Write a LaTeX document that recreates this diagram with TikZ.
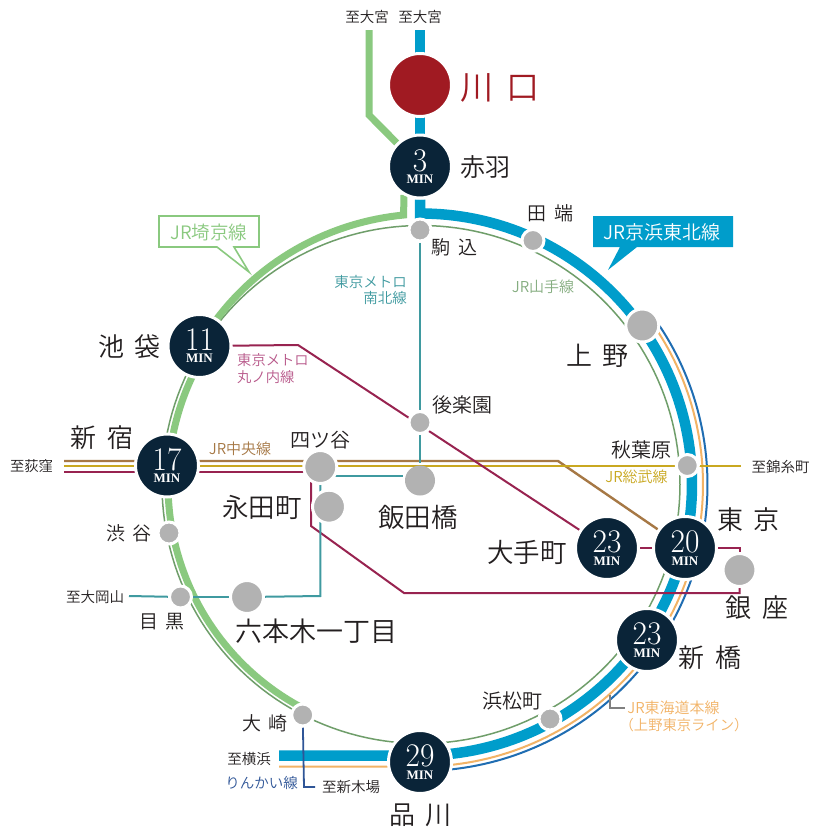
\documentclass[tikz,border=0pt]{standalone}
\usepackage{fontspec}
\usetikzlibrary{backgrounds}
\newfontfamily\cjk[UprightFont={* DemiLight},WordSpace=1.8]{Noto Sans CJK JP}
\newfontfamily\minf{Liberation Serif}
\newcommand{\jpf}[1]{\cjk\fontsize{#1}{#1}\selectfont}
\definecolor{navy}{HTML}{0A2438}
\definecolor{krimson}{HTML}{A01A22}
\definecolor{stgrey}{HTML}{B2B2B2}
\definecolor{keihin}{HTML}{009DCB}
\definecolor{saikyo}{HTML}{8AC97F}
\definecolor{yamanote}{HTML}{6F9E6A}
\definecolor{tokaido}{HTML}{F2B366}
\definecolor{uenotok}{HTML}{1F6DB2}
\definecolor{namboku}{HTML}{3F9AA0}
\definecolor{maruno}{HTML}{982350}
\definecolor{marutxt}{HTML}{B8588A}
\definecolor{chuo}{HTML}{A67845}
\definecolor{sobu}{HTML}{C9A820}
\definecolor{rinkai}{HTML}{2F5597}
\definecolor{inkc}{HTML}{231F20}
\newcommand{\minlabel}[1]{\vbox{\offinterlineskip
  \hbox to 50pt{\hss\scalebox{.95}[1]{\rmfamily\fontsize{33}{33}\selectfont #1}\hss}\kern3.5pt
  \hbox to 50pt{\hss\minf\bfseries\fontsize{13}{13}\selectfont MIN\hss}}}
\tikzset{
  x=1pt,y=-1pt,
  bigst/.style={circle,fill=navy,draw=white,line width=3pt,minimum size=63pt,inner sep=0pt,text=white},
  grL/.style={circle,fill=stgrey,draw=white,line width=3pt,minimum size=33pt,inner sep=0pt},
  grS/.style={circle,fill=stgrey,draw=white,line width=3pt,minimum size=22pt,inner sep=0pt},
  grN/.style={circle,fill=stgrey,minimum size=30pt,inner sep=0pt,outer sep=3pt},
  lab/.style={inner sep=0pt,text=inkc,font=\jpf{#1}},
  lnK/.style={keihin,line width=10.5pt,miter limit=10},
  lnS/.style={saikyo,line width=7pt,miter limit=10},
  lnY/.style={yamanote,line width=1.5pt},
  lnT/.style={tokaido,line width=2pt},
  lnU/.style={uenotok,line width=2pt},
  lnN/.style={namboku,line width=2pt},
  lnM/.style={maruno,line width=2pt},
  lnC/.style={chuo,line width=2.4pt},
  lnB/.style={sobu,line width=2.2pt},
  lnR/.style={rinkai,line width=1.8pt},
}
\begin{document}
\begin{tikzpicture}
\useasboundingbox (0,0) rectangle (820,836);
% stations
\node[circle,fill=krimson,draw=white,line width=3pt,minimum size=63pt,inner sep=0pt] (kawaguchi) at (420,85) {};
\node[bigst] (akabane) at (420,166.5) {\minlabel{3}};
\node[bigst] (ikebukuro) at (199.5,346) {\minlabel{11}};
\node[bigst] (shinjuku) at (167,465.5) {\minlabel{17}};
\node[bigst] (otemachi) at (607,548) {\minlabel{23}};
\node[bigst] (tokyo) at (685,548) {\minlabel{20}};
\node[bigst] (shinbashi) at (647,640) {\minlabel{23}};
\node[bigst] (shinagawa) at (420,762) {\minlabel{29}};
\node[grS] (komagome) at (420,230) {};
\node[grS] (tabata) at (533,240.5) {};
\node[grL] (ueno) at (642.3,325.5) {};
\node[grS] (korakuen) at (420,422.5) {};
\node[grS] (akihabara) at (687.3,465.5) {};
\node[grL] (yotsuya) at (320.3,467) {};
\node[grN] (iidabashi) at (420,480.5) {};
\node[grL] (nagatacho) at (329,506.7) {};
\node[grL] (ginza) at (739.5,570) {};
\node[grS] (shibuya) at (169,533) {};
\node[grS] (meguro) at (180.5,597) {};
\node[grL] (roppongi) at (247,597) {};
\node[grS] (osaki) at (302.7,715) {};
\node[grS] (hamamatsucho) at (550,719) {};
% free ends and bends
\coordinate (kTop) at (420,30);
\coordinate (kBend) at (420,213.5);
\coordinate (kEnd) at (279,755.5);
\coordinate (tEnd) at (279,766.5);
\coordinate (sTop) at (369,30);
\coordinate (sBend) at (369,115);
\coordinate (sFoot) at (404,195);
\coordinate (cW) at (64,461);
\coordinate (cBend) at (558,461);
\coordinate (bW) at (64,466);
\coordinate (bE) at (741,466);
\coordinate (mW) at (64,472);
\coordinate (mYot) at (320,472);
\coordinate (mA) at (298,345);
\coordinate (mGinzaT) at (739.5,548);
\coordinate (mGinzaB) at (739.5,593);
\coordinate (mB) at (404,593);
\coordinate (mC) at (311,526);
\coordinate (mD) at (311,467);
\coordinate (nW) at (129,596);
\coordinate (nC) at (320.3,596);
\coordinate (nY) at (320.3,476);
\coordinate (rC) at (304,787);
\coordinate (rE) at (315,787);
\coordinate (leadA) at (610,695);
\coordinate (leadB) at (610,708);
\coordinate (leadC) at (625,708);
% connectors
\begin{scope}[on background layer]
\fill[white] (0,0) rectangle (820,836);
\draw[lnY] plot[domain=0:360,samples=181] ({421+259*cos(\x)},{484.5-259*sin(\x)}) -- cycle;
\draw[lnS] (sFoot) -- plot[domain=93.7:150,samples=40] ({421+(270-0.15*(\x-94))*cos(\x)},{484.5-(270-0.15*(\x-94))*sin(\x)});
\draw[lnS] plot[domain=150:243,samples=60] ({421+253*cos(\x)},{484.5-253*sin(\x)});
\draw[lnS,line join=miter] (sTop) -- (sBend) -- (akabane);
\draw[lnK,line width=9.5pt] (kTop) -- (akabane);
\draw[lnT] plot[domain=33:-90,samples=90] ({421+282*cos(\x)},{484.5-282*sin(\x)}) -- (tEnd);
\draw[lnU] plot[domain=33.6:-84,samples=90] ({421+286.5*cos(\x)},{484.5-286.5*sin(\x)});
\draw[lnK] (akabane) -- (kBend) -- plot[domain=90:-90,samples=130] ({421+271*cos(\x)},{484.5-271*sin(\x)}) -- (kEnd);
\draw[lnC] (cW) -- (cBend) -- (tokyo);
\draw[lnB] (bW) -- (bE);
\draw[lnM] (mW) -- (mYot);
\draw[lnM] (ikebukuro) -- (mA) -- (otemachi);
\draw[lnM] (otemachi) -- (tokyo);
\draw[lnM] (tokyo) -- (mGinzaT) -- (ginza);
\draw[lnM] (ginza) -- (mGinzaB) -- (mB) -- (mC) -- (mD);
\draw[lnN] (komagome) -- (korakuen);
\draw[lnN] (korakuen) -- (iidabashi);
\draw[lnN,shorten >=17pt] (nY) -- (iidabashi |- nY);
\draw[lnN] (nW) -- (meguro);
\draw[lnN] (meguro) -- (roppongi);
\draw[lnN] (roppongi) -- (nC) -- (yotsuya);
\draw[lnR] (osaki) -- (rC) -- (rE);
\draw[color=gray,line width=1.4pt] (leadA) -- (leadB) -- (leadC);
\end{scope}
% callouts
\fill[keihin] (593,216) -- (733,216) -- (733,247) -- (637,247) -- (608,270) -- (620,247) -- (593,247) -- cycle;
\node[lab=19,text=white] (keihinT) at (662,232) {JR京浜東北線};
\draw[saikyo,line width=1.6pt,fill=white] (159,216) -- (259,216) -- (259,247) -- (234,247) -- (249,272) -- (217,247) -- (159,247) -- cycle;
\node[lab=18.5,text=saikyo] (saikyoT) at (209,232) {JR埼京線};
% labels
\node[lab=14.5] (toA) at (367,17) {至大宮};
\node[lab=14.5] (toB) at (420,17) {至大宮};
\node[lab=33,text=krimson,anchor=west] (lKawaguchi) at (460,88) {川 口};
\node[lab=25] (lAkabane) at (485,167) {赤羽};
\node[lab=19] (lKomagome) at (454.5,247) {駒 込};
\node[lab=19] (lTabata) at (550.5,213) {田 端};
\node[lab=14.5,text=namboku,align=right,anchor=east] (lNamboku) at (407,290) {東京メトロ\\[2pt]南北線};
\node[lab=15,text=yamanote!85!white] (lYamanote) at (543,287) {JR山手線};
\node[lab=26] (lUeno) at (597.5,356) {上 野};
\node[lab=20] (lKorakuen) at (462.5,405) {後楽園};
\node[lab=20] (lAkihabara) at (641,450) {秋葉原};
\node[lab=15,text=sobu] (lSobu) at (636.5,477) {JR総武線};
\node[lab=14.5] (lKinshi) at (780.5,467) {至錦糸町};
\node[lab=26] (lTokyo) at (748.5,520) {東 京};
\node[lab=26] (lGinza) at (757,608) {銀 座};
\node[lab=26] (lShinbashi) at (710,658) {新 橋};
\node[lab=26.5] (lOtemachi) at (527,552) {大手町};
\node[lab=15,text=tokaido] (lTokaido) at (673.5,708) {JR東海道本線};
\node[lab=14.3,text=tokaido] (lUenoTokyo) at (684,725) {（上野東京ライン）};
\node[lab=26.5] (lIidabashi) at (418,517) {飯田橋};
\node[lab=20] (lYotsuya) at (320.5,440) {四ツ谷};
\node[lab=26.5] (lNagatacho) at (262,507) {永田町};
\node[lab=26] (lShinjuku) at (102,438) {新 宿};
\node[lab=26] (lIkebukuro) at (129.5,347) {池 袋};
\node[lab=19] (lShibuya) at (129,533) {渋 谷};
\node[lab=14.3] (lOgikubo) at (31.5,466) {至荻窪};
\node[lab=15,text=chuo] (lChuo) at (240,449) {JR中央線};
\node[lab=14.3,text=marutxt,align=left,anchor=west] (lMaruno) at (237,368.5) {東京メトロ\\[2pt]丸ノ内線};
\node[lab=14.5] (lOokayama) at (95,597) {至大岡山};
\node[lab=19] (lMeguro) at (162,622) {目 黒};
\node[lab=27] (lRoppongi) at (316.5,631) {六本木一丁目};
\node[lab=19] (lOsaki) at (265,723) {大 崎};
\node[lab=20] (lHamamatsu) at (512,701) {浜松町};
\node[lab=14.5] (lYokohama) at (249,759) {至横浜};
\node[lab=14.5,text=rinkai] (lRinkai) at (261.5,783) {りんかい線};
\node[lab=14.5] (lShinkiba) at (351,787) {至新木場};
\node[lab=26] (lShinagawa) at (420.5,815) {品 川};
\end{tikzpicture}
\end{document}
